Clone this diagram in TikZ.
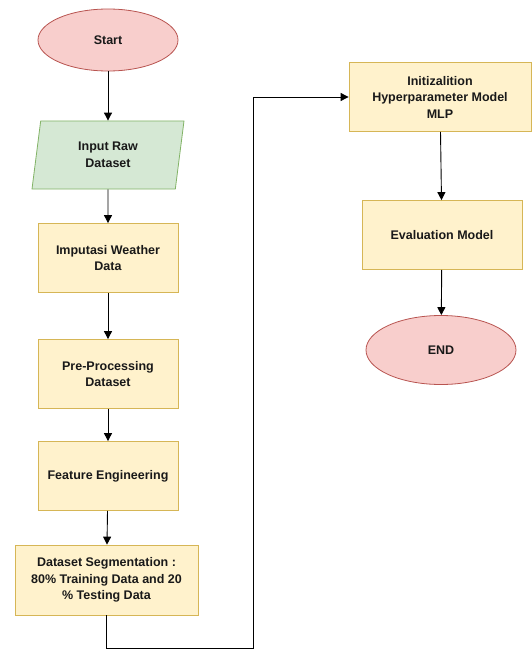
\documentclass[tikz,border=0pt]{standalone}
\usepackage{fontspec}
\setmainfont{Liberation Sans}
\usetikzlibrary{shapes.geometric,arrows.meta}

\definecolor{termfill}{HTML}{F8CECC}
\definecolor{termline}{HTML}{B85450}
\definecolor{iofill}{HTML}{D5E8D4}
\definecolor{ioline}{HTML}{82B366}
\definecolor{procfill}{HTML}{FFF2CC}
\definecolor{procline}{HTML}{D6B656}

\tikzset{
    terminal/.style={ellipse, draw=termline, fill=termfill, line width=0.8pt,
        minimum width=140pt, minimum height=62pt, inner sep=0pt},
    inputbox/.style={trapezium, trapezium left angle=71, trapezium right angle=109,
        trapezium stretches body, draw=ioline, fill=iofill, line width=0.8pt,
        minimum width=152pt, minimum height=68pt, inner sep=0pt, align=center},
    procbox/.style={rectangle, draw=procline, fill=procfill, line width=0.8pt,
        minimum width=140pt, minimum height=69pt, inner sep=2pt, align=center},
    flow/.style={draw=black, line width=0.9pt, -{Triangle[length=8pt,width=8pt]}}
}

\begin{document}
\begin{tikzpicture}[x=1pt, y=-1pt, font=\fontsize{12.5}{16.5}\selectfont\bfseries,
    text=black!90]
        % Page frame
        \useasboundingbox (0,0) rectangle (531,650);

        % Left column
        \node[terminal] (start) at (108,40) {Start};
        \node[inputbox] (input) at (108,155) {Input Raw\\Dataset};
        \node[procbox] (imput) at (108,258) {Imputasi Weather\\Data};
        \node[procbox] (prep) at (108,374) {Pre-Processing\\Dataset};
        \node[procbox] (feat) at (108,476) {Feature Engineering};
        \node[procbox, minimum width=183pt, minimum height=70pt] (seg) at (106.5,580)
            {Dataset Segmentation :\\80\% Training Data and 20\\\% Testing Data};

        % Right column
        \node[procbox, minimum width=182pt] (init) at (440,97)
            {Initizalition\\Hyperparameter Model\\MLP};
        \node[procbox, minimum width=160pt] (eval) at (442,235) {Evaluation Model};
        \node[terminal, minimum width=150pt, minimum height=69pt] (finish) at (441,350) {END};

        % Arrows down the left column
        \draw[flow] (start) -- (input);
        \draw[flow] (input) -- (imput);
        \draw[flow] (imput) -- (prep);
        \draw[flow] (prep) -- (feat);
        \draw[flow] (feat) -- (seg);

        % Elbow over to the right column
        \coordinate (turn) at (253,648);
        \draw[flow] (seg.south) |- (turn) |- (init.west);

        % Arrows down the right column
        \draw[flow] (init) -- (eval);
        \draw[flow] (eval) -- (finish);
    \end{tikzpicture}
\end{document}
